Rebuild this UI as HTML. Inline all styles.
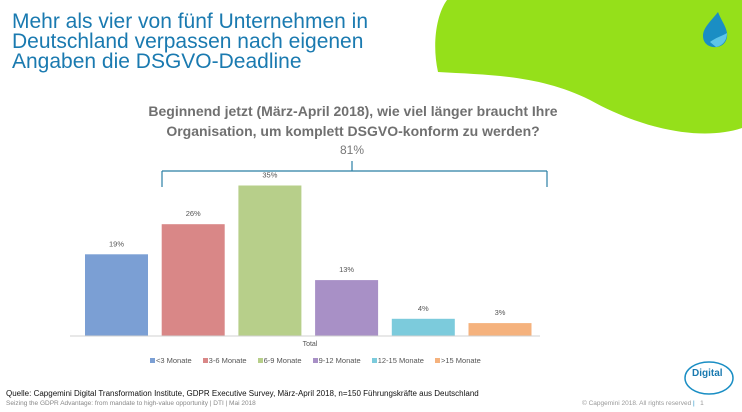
<!DOCTYPE html>
<html><head><meta charset="utf-8"><style>
body{margin:0;width:742px;height:412px;overflow:hidden;background:#fff;font-family:"Liberation Sans",sans-serif;position:relative}
.t{position:absolute;white-space:nowrap}
</style></head><body>
<svg width="742" height="412" style="position:absolute;left:0;top:0">
<path d="M447,0 L742,0 L742,128 C700,142 640,128 590,100 C540,75 490,75 438,72 C432,45 436,15 447,0 Z" fill="#95e01a"/>
<path d="M718,12 C710,22 703,28 703,36 C703,44 710,48 717,47 C724,46 728,40 727,33 C726,26 721,20 718,12 Z" fill="#1a8ec4"/>
<path d="M710,42 C715,38 722,36 727,33 C727,41 722,46 716,47 Z" fill="#5ec5e8"/>
<g id="bars"></g>
<line x1="162" y1="171" x2="547" y2="171" stroke="#2a7fa5" stroke-width="1.2"/>
<line x1="162" y1="171" x2="162" y2="187" stroke="#2a7fa5" stroke-width="1.2"/>
<line x1="547" y1="171" x2="547" y2="187" stroke="#2a7fa5" stroke-width="1.2"/>
<line x1="352" y1="161" x2="352" y2="171" stroke="#2a7fa5" stroke-width="1.2"/>
<line x1="70" y1="336" x2="540" y2="336" stroke="#d0d0d0" stroke-width="1"/>
<ellipse cx="709" cy="378" rx="24" ry="16" fill="none" stroke="#1a8ec4" stroke-width="1.5"/>
</svg>
<div class="t" style="left:12px;top:12px;font-size:21px;line-height:20px;color:#1a7ab0">Mehr als vier von fünf Unternehmen in<br>Deutschland verpassen nach eigenen<br>Angaben die DSGVO-Deadline</div>
<div class="t" style="left:100px;width:506px;text-align:center;top:101px;font-size:14px;line-height:20px;font-weight:bold;color:#707070">Beginnend jetzt (März-April 2018), wie viel länger braucht Ihre<br>Organisation, um komplett DSGVO-konform zu werden?</div>
<div class="t" style="left:332px;width:40px;text-align:center;top:143px;font-size:12px;color:#777">81%</div>
<div class="t" style="left:290px;width:40px;text-align:center;top:341px;font-size:7px;color:#555">Total</div>
<div id="legend" class="t" style="left:150px;top:356px;font-size:7.5px;color:#555"></div>
<div class="t" style="left:6px;top:389px;font-size:8px;color:#111">Quelle: Capgemini Digital Transformation Institute, GDPR Executive Survey, März-April 2018, n=150 Führungskräfte aus Deutschland</div>
<div class="t" style="left:6px;top:400px;font-size:6.5px;color:#888">Seizing the GDPR Advantage: from mandate to high-value opportunity | DTI | Mai 2018</div>
<div class="t" style="left:582px;top:400px;font-size:6.5px;color:#999">© Capgemini 2018. All rights reserved <span style="color:#1a8ec4">|</span> &nbsp; 1</div>
<div class="t" style="left:692px;top:368px;font-size:10px;font-weight:bold;color:#1a7ab0">Digital</div>
<script>
const categories=["<3 Monate","3-6 Monate","6-9 Monate","9-12 Monate","12-15 Monate",">15 Monate"];
const values=[19,26,35,13,4,3];
const colors=["#7b9fd4","#d98787","#b7cf8a","#a890c6","#7ccbdc","#f5b27d"];
const base=336,pxPer=4.3,x0=85,step=76.7,bw=63;
const yS=v=>base-v*pxPer;
const g=document.getElementById('bars');
const ns="http://www.w3.org/2000/svg";
values.forEach((v,i)=>{
 const r=document.createElementNS(ns,'rect');
 
 
 r.setAttribute('x',x0+i*step);r.setAttribute('y',yS(v));
 r.setAttribute('width',bw);r.setAttribute('height',base-yS(v));
 r.setAttribute('fill',colors[i]);g.appendChild(r);
 const t=document.createElementNS(ns,'text');
 
 
 t.setAttribute('x',x0+i*step+bw/2);t.setAttribute('y',yS(v)-8);
 t.setAttribute('text-anchor','middle');t.setAttribute('font-size','7.5');
 t.setAttribute('fill','#555');t.setAttribute('font-family','Liberation Sans');
 t.textContent=v+'%';g.appendChild(t);
});
const lg=document.getElementById('legend');
categories.forEach((c,i)=>{
 const s=document.createElement('span');
 
 
 s.style.marginRight='11px';
 s.innerHTML='<span style="display:inline-block;width:5px;height:5px;background:'+colors[i]+';margin-right:1px"></span>';
 s.appendChild(document.createTextNode(c));
 lg.appendChild(s);
});
</script>
</body></html>
